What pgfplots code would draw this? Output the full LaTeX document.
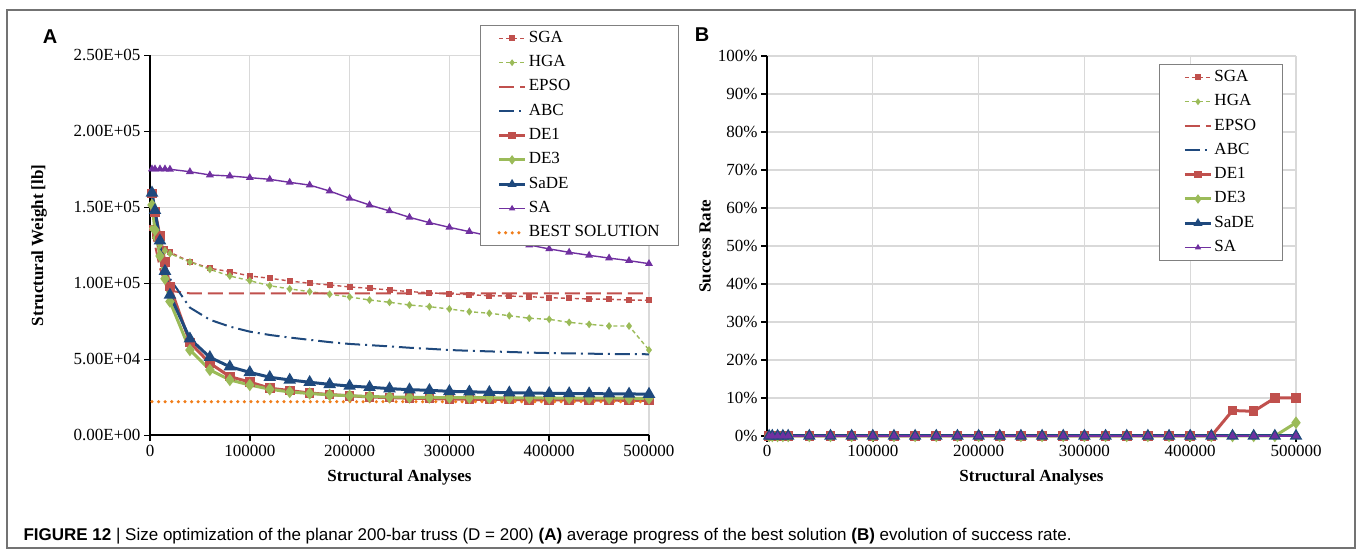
\documentclass[border=0pt]{standalone}
\usepackage{fontspec}
\setmainfont{Liberation Serif}
\newfontfamily\capfont{Liberation Sans}
\usepackage{pgfplots}
\usepackage{pgfplotstable}
\pgfplotsset{compat=1.18}
\definecolor{cR}{HTML}{C0504D}
\definecolor{cG}{HTML}{9BBB59}
\definecolor{cB}{HTML}{1F497D}
\definecolor{cP}{HTML}{7030A0}
\definecolor{cO}{HTML}{F07D1A}
\definecolor{gridc}{HTML}{D9D9D9}

\pgfplotstableread{
x       sga    hga    epso   abc    de1    de3    sade   sa     best
2000    136500 136000 137000 150000 159200 151500 159500 175200 22100
5000    131000 130000 125000 140000 147000 135000 148000 175200 22100
10000   126000 125000 110000 125000 131000 118000 128000 175200 22100
15000   122500 121500 100000 112000 114000 103000 108000 175200 22100
20000   120500 119500 95000  103000 98000  88000  92300  175000 22100
40000   114200 114000 93400  84000  61000  56100  63500  173400 22100
60000   109900 109200 93400  76000  47400  43000  51300  171250 22100
80000   107600 104800 93400  71500  38600  36400  45100  170600 22100
100000  104800 101700 93400  68200  35000  33100  41400  169500 22100
120000  103300 98400  93400  66000  31000  30300  38200  168400 22100
140000  101500 96300  93400  64300  29400  28500  36400  166400 22100
160000  100000 94500  93400  62800  27800  27500  34900  164600 22100
180000  98900  92800  93400  61300  26800  26600  33500  160700 22100
200000  97600  91000  93400  60100  26000  26000  32400  155900 22100
220000  96700  89000  93400  59300  25200  25500  31600  151500 22100
240000  95600  87500  93400  58500  24800  25200  30700  147600 22100
260000  94500  85700  93400  57600  24400  25000  30000  143400 22100
280000  93800  84600  93400  56900  24100  24900  29600  139900 22100
300000  93000  83100  93400  56100  23900  24800  28900  136800 22100
320000  92500  81300  93400  55600  23700  24700  28600  134000 22100
340000  91800  80300  93400  55200  23600  24700  28300  131100 22100
360000  91600  78700  93400  54800  23500  24600  28000  128000 22100
380000  91200  77000  93400  54400  23400  24600  27800  125200 22100
400000  90500  76300  93400  54100  23300  24500  27600  122600 22100
420000  90100  74300  93400  53900  23200  24500  27500  120400 22100
440000  89700  73000  93400  53700  23100  24400  27400  118400 22100
460000  89500  71900  93400  53500  23100  24400  27300  116600 22100
480000  89000  71900  93400  53400  23000  24400  27200  114900 22100
500000  88800  56100  93400  53300  23000  24300  27100  112900 22100
}\weight

\pgfplotstableread{
x       sga  hga  epso abc  de1  de3  sade sa
2000    0    0    0    0    0    0    0    0
5000    0    0    0    0    0    0    0    0
10000   0    0    0    0    0    0    0    0
15000   0    0    0    0    0    0    0    0
20000   0    0    0    0    0    0    0    0
40000   0    0    0    0    0    0    0    0
60000   0    0    0    0    0    0    0    0
80000   0    0    0    0    0    0    0    0
100000  0    0    0    0    0    0    0    0
120000  0    0    0    0    0    0    0    0
140000  0    0    0    0    0    0    0    0
160000  0    0    0    0    0    0    0    0
180000  0    0    0    0    0    0    0    0
200000  0    0    0    0    0    0    0    0
220000  0    0    0    0    0    0    0    0
240000  0    0    0    0    0    0    0    0
260000  0    0    0    0    0    0    0    0
280000  0    0    0    0    0    0    0    0
300000  0    0    0    0    0    0    0    0
320000  0    0    0    0    0    0    0    0
340000  0    0    0    0    0    0    0    0
360000  0    0    0    0    0    0    0    0
380000  0    0    0    0    0    0    0    0
400000  0    0    0    0    0    0    0    0
420000  0    0    0    0    0    0    0    0
440000  0    0    0    0    6.7  0    0    0
460000  0    0    0    0    6.5  0    0    0
480000  0    0    0    0    10.0 0    0    0
500000  0    0    0    0    10.0 3.5  0    0
}\success

\pgfplotsset{
  base/.style={
    scale only axis, clip=false, scaled ticks=false,
    axis x line*=bottom, axis y line*=left,
    axis line style={line width=1.8pt,black,-},
    xmin=0, xmax=500000,
    xtick={0,100000,200000,300000,400000,500000},
    xticklabels={0,100000,200000,300000,400000,500000},
    grid=major, major grid style={draw=gridc,line width=1.3pt},
    tick align=outside, major tick length=6pt,
    every tick/.style={black,line width=1.5pt},
    tick label style={font=\fontsize{17}{20}\selectfont},
    label style={font=\bfseries\fontsize{17}{20}\selectfont},
    legend cell align=left,
    legend image code/.code={\draw[mark repeat=2,mark phase=2] plot coordinates {(0pt,0pt) (13pt,0pt) (26pt,0pt)};},
    legend image post style={mark size=2.3pt},
    legend style={draw=black!50, line width=1pt, fill=white,
      font=\fontsize{17}{20}\selectfont,
      nodes={inner ysep=0pt, text height=12pt, text depth=4pt},
      row sep=8.3pt, inner ysep=5pt},
  },
  sgaS/.style={color=cR, line width=1.4pt, dash pattern=on 4pt off 3pt, mark=square*, mark size=2.3pt, mark options={solid}},
  hgaS/.style={color=cG, line width=1.4pt, dash pattern=on 4pt off 3pt, mark=diamond*, mark size=2.8pt, mark options={solid}},
  epsoS/.style={color=cR, line width=2pt, dash pattern=on 15pt off 6pt, no marks},
  abcS/.style={color=cB, line width=2pt, dash pattern=on 15pt off 5pt on 2pt off 5pt, no marks},
  de1S/.style={color=cR, line width=3pt, mark=square*, mark size=3.3pt},
  de3S/.style={color=cG, line width=3pt, mark=diamond*, mark size=3.8pt},
  sadeS/.style={color=cB, line width=3pt, mark=triangle*, mark size=4.3pt},
  saS/.style={color=cP, line width=1.4pt, mark=triangle*, mark size=3.2pt},
  bestS/.style={color=cO, line width=3.5pt, line cap=round, dash pattern=on 0pt off 6.6pt, no marks},
}

\begin{document}
\begin{tikzpicture}[x=1pt,y=1pt]
\path[use as bounding box] (0,0) rectangle (1358,553);
\draw[black!55, line width=1.2pt] (7,5) rectangle (1355,543);

\node[font=\capfont\bfseries\fontsize{20}{24}\selectfont] at (50,516) {A};
\node[font=\capfont\bfseries\fontsize{20}{24}\selectfont] at (702,518) {B};

\begin{axis}[base,
  at={(150pt,117.7pt)}, anchor=south west, width=499pt, height=380pt,
  ymin=0, ymax=250000,
  ytick={0,50000,100000,150000,200000,250000},
  yticklabels={0.00E+00,5.00E+04,1.00E+05,1.50E+05,2.00E+05,2.50E+05},
  xlabel={Structural Analyses}, ylabel={Structural Weight [lb]},
  xlabel style={at={(rel axis cs:0.5,-0.11)}, anchor=center},
  ylabel style={at={(rel axis cs:-0.222,0.5)}, anchor=center},
  legend style={at={(0.661,1.08)}, anchor=north west, inner xsep=17pt},
]
\addplot[sgaS] table[x=x,y=sga] {\weight}; \addlegendentry{SGA}
\addplot[hgaS] table[x=x,y=hga] {\weight}; \addlegendentry{HGA}
\addplot[epsoS] table[x=x,y=epso] {\weight}; \addlegendentry{EPSO}
\addplot[abcS] table[x=x,y=abc] {\weight}; \addlegendentry{ABC}
\addplot[de1S] table[x=x,y=de1] {\weight}; \addlegendentry{DE1}
\addplot[de3S] table[x=x,y=de3] {\weight}; \addlegendentry{DE3}
\addplot[sadeS] table[x=x,y=sade] {\weight}; \addlegendentry{SaDE}
\addplot[saS] table[x=x,y=sa] {\weight}; \addlegendentry{SA}
\addplot[bestS] table[x=x,y=best] {\weight}; \addlegendentry{BEST SOLUTION}
\end{axis}

\begin{axis}[base,
  at={(767pt,117pt)}, anchor=south west, width=529pt, height=380pt,
  ymin=0, ymax=100,
  ytick={0,10,...,100},
  yticklabels={0\%,10\%,20\%,30\%,40\%,50\%,60\%,70\%,80\%,90\%,100\%},
  xlabel={Structural Analyses}, ylabel={Success Rate},
  xlabel style={at={(rel axis cs:0.5,-0.108)}, anchor=center},
  ylabel style={at={(rel axis cs:-0.117,0.5)}, anchor=center},
  legend style={at={(0.741,0.979)}, anchor=north west, inner xsep=24pt},
]
\addplot[sgaS] table[x=x,y=sga] {\success}; \addlegendentry{SGA}
\addplot[hgaS] table[x=x,y=hga] {\success}; \addlegendentry{HGA}
\addplot[epsoS] table[x=x,y=epso] {\success}; \addlegendentry{EPSO}
\addplot[abcS] table[x=x,y=abc] {\success}; \addlegendentry{ABC}
\addplot[de1S] table[x=x,y=de1] {\success}; \addlegendentry{DE1}
\addplot[de3S] table[x=x,y=de3] {\success}; \addlegendentry{DE3}
\addplot[sadeS] table[x=x,y=sade] {\success}; \addlegendentry{SaDE}
\addplot[saS] table[x=x,y=sa] {\success}; \addlegendentry{SA}
\end{axis}

\node[anchor=west, font=\capfont\fontsize{17}{20}\selectfont] at (20,17)
  {\textbf{FIGURE 12} | Size optimization of the planar 200-bar truss (D = 200) \textbf{(A)} average progress of the best solution \textbf{(B)} evolution of success rate.};
\end{tikzpicture}
\end{document}
